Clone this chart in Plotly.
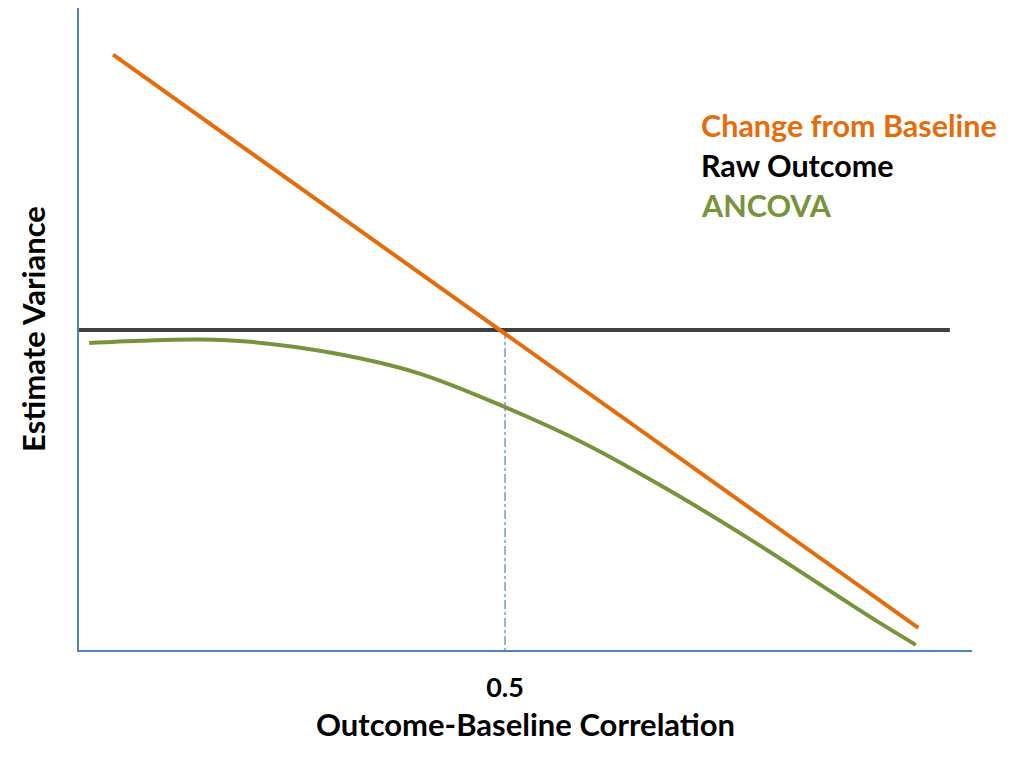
import plotly.graph_objects as go

# values (variance scaled so Raw Outcome = 1)
change_x = [0.04, 0.985]
change_y = [1.86, 0.069]

raw_x = [0.0, 1.022]
raw_y = [1.0, 1.0]

ancova_x = [0.012, 0.072, 0.142, 0.201, 0.298, 0.397, 0.5, 0.592, 0.690, 0.788, 0.885, 0.934, 0.982]
ancova_y = [0.959, 0.966, 0.970, 0.963, 0.928, 0.866, 0.759, 0.647, 0.503, 0.345, 0.178, 0.094, 0.016]

ref_x = [0.5, 0.5]
ref_y = [1.0, 0.0]

tick_vals = [0.5]
tick_text = ["0.5"]

legend_names = ["Change from Baseline", "Raw Outcome", "ANCOVA"]
legend_colors = ["#E46C0A", "#000000", "#77933C"]

font = "Lato"

fig = go.Figure()
fig.add_scatter(x=ref_x, y=ref_y, mode="lines",
                line=dict(color="#4F81BD", width=1.2, dash="dashdot"))
fig.add_scatter(x=raw_x, y=raw_y, mode="lines", line=dict(color="#404040", width=4))
fig.add_scatter(x=ancova_x, y=ancova_y, mode="lines",
                line=dict(color="#77933C", width=4, shape="spline", smoothing=1.0))
fig.add_scatter(x=change_x, y=change_y, mode="lines", line=dict(color="#E46C0A", width=4))

# page body has an 8px margin, so pixel positions below are screen coords
off = 8
W, H = 1016, 749
l, r, t, b = 79 - off, 52, 0, 107
pw, ph = W - l - r, H - t - b

for i, (name, col) in enumerate(zip(legend_names, legend_colors)):
    fig.add_annotation(x=(699 - off - l) / pw, y=1 - (125 + 40 * i - off - t) / ph,
                       xref="paper", yref="paper",
                       text="<b>%s</b>" % name, showarrow=False,
                       xanchor="left", yanchor="middle",
                       font=dict(family=font, size=30.5, color=col))

fig.update_xaxes(range=[0, 1.048], showline=True, linecolor="#4F81BD", linewidth=2,
                 showgrid=False, zeroline=False, tickvals=tick_vals,
                 ticktext=["<b>%s</b>" % t for t in tick_text], ticks="",
                 ticklabelstandoff=13,
                 tickfont=dict(family=font, size=27, color="black"),
                 title=dict(text="<b>Outcome-Baseline Correlation</b>", standoff=12,
                            font=dict(family=font, size=31, color="black")))
fig.update_yaxes(range=[0, 2.006], showline=True, linecolor="#4F81BD", linewidth=2,
                 showgrid=False, zeroline=False, showticklabels=False, ticks="",
                 title=dict(text="<b>Estimate Variance</b>", standoff=22,
                            font=dict(family=font, size=31, color="black")))

fig.update_layout(width=W, height=H, showlegend=False,
                  margin=dict(l=l, r=r, t=t, b=b),
                  plot_bgcolor="white", paper_bgcolor="white")

fig.write_html("out.html")
